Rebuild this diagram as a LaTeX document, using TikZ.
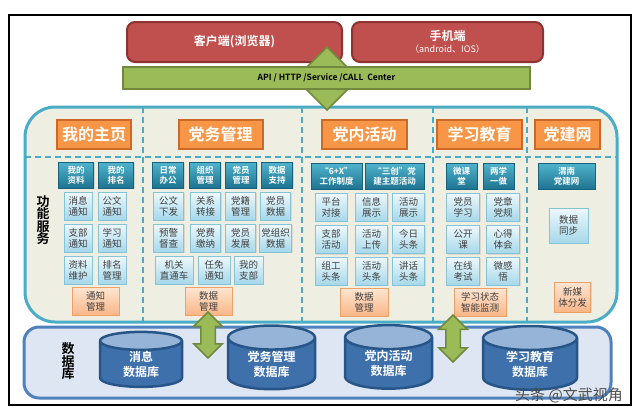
\documentclass[tikz,border=0pt]{standalone}
\usepackage{fontspec}
\setmainfont{Noto Sans CJK SC}[BoldFont={Noto Sans CJK SC Bold}]
\usetikzlibrary{shapes.geometric,shapes.arrows,shadows,positioning}
\definecolor{redfill}{RGB}{192,80,77}
\definecolor{redline}{RGB}{140,52,50}
\definecolor{greenfill}{RGB}{155,187,89}
\definecolor{greenline}{RGB}{113,137,63}
\definecolor{tealline}{RGB}{75,172,198}
\definecolor{panelfill}{RGB}{238,239,226}
\definecolor{orangefill}{RGB}{247,150,70}
\definecolor{orangeline}{RGB}{205,105,40}
\definecolor{subtop}{RGB}{80,180,205}
\definecolor{subbot}{RGB}{30,115,145}
\definecolor{celltop}{RGB}{238,248,252}
\definecolor{cellbot}{RGB}{165,216,234}
\definecolor{cellline}{RGB}{135,195,215}
\definecolor{peachtop}{RGB}{253,230,210}
\definecolor{peachbot}{RGB}{249,182,135}
\definecolor{peachline}{RGB}{238,160,105}
\definecolor{dbfill}{RGB}{221,230,242}
\definecolor{dbline}{RGB}{79,129,189}
\definecolor{cylbody}{RGB}{62,112,172}
\definecolor{cyltop}{RGB}{150,180,215}
\definecolor{cylline}{RGB}{40,85,135}

\begin{document}
\begin{tikzpicture}[x=1pt, y=-1pt, font=\fontsize{9}{10}\selectfont,
  redbox/.style={draw=redline, line width=2pt, fill=redfill, rounded corners=8pt, text=white, align=center, inner sep=0pt, font=\bfseries\fontsize{12}{14}\selectfont},
  greenbar/.style={draw=greenline, line width=2pt, fill=greenfill, inner sep=0pt, font=\bfseries\fontsize{8.5}{10}\selectfont},
  dblarrow/.style={double arrow, draw=greenline, line width=1.5pt, fill=greenfill, rotate=90, inner xsep=0pt},
  sep/.style={tealline, line width=1.2pt, dash pattern=on 6pt off 4pt},
  header/.style={draw=orangeline, line width=2pt, fill=orangefill, text=white, minimum height=29pt, inner sep=0pt, font=\bfseries\fontsize{16}{18}\selectfont},
  subhead/.style={draw=subbot!85!black, top color=subtop, bottom color=subbot, text=white, align=center, minimum height=26pt, inner sep=1pt, drop shadow={opacity=0.25, shadow xshift=1pt, shadow yshift=-1pt}, font=\bfseries\fontsize{8.5}{10}\selectfont},
  cell/.style={draw=cellline, top color=celltop, bottom color=cellbot, text=black!75, align=center, minimum width=30pt, minimum height=28pt, inner sep=1pt, drop shadow={opacity=0.2, shadow xshift=1pt, shadow yshift=-1pt}, font=\fontsize{9.5}{11}\selectfont},
  peach/.style={draw=peachline, top color=peachtop, bottom color=peachbot, text=black!75, align=center, minimum height=28pt, inner sep=1pt, drop shadow={opacity=0.2, shadow xshift=1pt, shadow yshift=-1pt}, font=\fontsize{9.5}{11}\selectfont},
  dbcyl/.style={cylinder, shape border rotate=90, aspect=0.5, draw=cylline, line width=2.5pt, cylinder uses custom fill, cylinder body fill=cylbody, cylinder end fill=cyltop, text=white, align=center, inner sep=0pt, font=\bfseries\fontsize{12}{15}\selectfont},
  vlabel/.style={align=center, inner sep=0pt, font=\bfseries\fontsize{13}{12.5}\selectfont}]

\fill[white] (0,0) rectangle (640,415);
\draw[line width=1.8pt] (9,15) rectangle (631,405);
\draw[tealline, line width=3pt, fill=panelfill, rounded corners=30pt] (25,107) rectangle (617,322);
\draw[dbline, line width=3pt, fill=dbfill, rounded corners=15pt] (24,327) rectangle (611,398);
\draw[sep] (25,157) -- (617,157);
\draw[sep] (143,107) -- (143,322);
\draw[sep] (302,107) -- (302,322);
\draw[sep] (433,107) -- (433,322);
\draw[sep] (527,107) -- (527,322);

% clients and access layer
\node[redbox, minimum width=215pt, minimum height=40pt] (client) at (234.5,42) {客户端(浏览器)};
\node[redbox, minimum width=191pt, minimum height=40pt] (mobile) at (447.5,42) {手机端\\[-2pt]{\mdseries\fontsize{9}{10}\selectfont （android、IOS）}};
\node[dblarrow, minimum height=63pt, inner ysep=9pt, double arrow head extend=11pt] (link) at (327,78.5) {};
\node[greenbar, minimum width=407pt, minimum height=22pt] (api) at (326.5,78) {API / HTTP /Service /CALL~~Center};

% function modules
\node[header, minimum width=74pt] (home) at (94,134.5) {我的主页};
\node[header, minimum width=84pt] (affairs) at (220.5,134.5) {党务管理};
\node[header, minimum width=85pt] (activity) at (364.5,134.5) {党内活动};
\node[header, minimum width=85pt] (study) at (479.5,134) {学习教育};
\node[header, minimum width=65pt] (portal) at (567.5,134) {党建网};

\node[subhead, minimum width=35pt] (myinfo) at (76,175) {我的\\资料};
\node[subhead, minimum width=35pt] (myrank) at (116,175) {我的\\排名};
\node[subhead, minimum width=31pt] (daily) at (168,175) {日常\\办公};
\node[subhead, minimum width=31pt] (org) at (205,175) {组织\\管理};
\node[subhead, minimum width=31pt] (member) at (241,175) {党员\\管理};
\node[subhead, minimum width=31pt] (datasup) at (277,175) {数据\\支持};
\node[subhead, minimum width=51pt] (sixx) at (336.5,176) {“6+X”\\工作制度};
\node[subhead, minimum width=59pt] (sanchuang) at (394.5,176) {“三创”党\\建主题活动};
\node[subhead, minimum width=31pt] (microclass) at (461.5,176) {微课\\堂};
\node[subhead, minimum width=31pt] (twostudy) at (498.5,176) {两学\\一做};
\node[subhead, minimum width=57pt] (weinan) at (566.5,176) {渭南\\党建网};

\node[cell, minimum width=28pt] (msgnote) at (78,206) {消息\\通知};
\node[cell, minimum width=28pt] (docnote) at (112,206) {公文\\通知};
\node[cell, minimum width=28pt] (branchnote) at (78,238) {支部\\通知};
\node[cell, minimum width=28pt] (studynote) at (112,238) {学习\\通知};
\node[cell, minimum width=28pt] (profile) at (78,270) {资料\\维护};
\node[cell, minimum width=28pt] (rankmgr) at (112,270) {排名\\管理};

\node[cell] (docsend) at (168.5,206) {公文\\下发};
\node[cell] (transfer) at (205.5,206) {关系\\转接};
\node[cell] (roster) at (240.5,206) {党籍\\管理};
\node[cell] (memberdata) at (275.5,206) {党员\\数据};
\node[cell] (warning) at (168.5,238) {预警\\督查};
\node[cell] (fees) at (205.5,238) {党费\\缴纳};
\node[cell] (develop) at (240.5,238) {党员\\发展};
\node[cell, minimum width=32pt] (orgdata) at (275.5,238) {党组织\\数据};
\node[cell, minimum width=38pt] (express) at (174,270) {机关\\直通车};
\node[cell, minimum width=32pt] (appoint) at (214,270) {任免\\通知};
\node[cell, minimum width=29pt] (mybranch) at (248.5,270) {我的\\支部};

\node[cell, minimum width=32pt] (dock) at (331,207) {平台\\对接};
\node[cell, minimum width=32pt] (infoshow) at (371.5,207) {信息\\展示};
\node[cell, minimum width=32pt] (actshow) at (408.5,207) {活动\\展示};
\node[cell, minimum width=32pt] (branchact) at (331,239.5) {支部\\活动};
\node[cell, minimum width=32pt] (upload) at (371.5,239.5) {活动\\上传};
\node[cell, minimum width=32pt] (today) at (408.5,239.5) {今日\\头条};
\node[cell, minimum width=32pt] (orgnews) at (331,271) {组工\\头条};
\node[cell, minimum width=32pt] (actnews) at (371.5,271) {活动\\头条};
\node[cell, minimum width=32pt] (speech) at (408.5,271) {讲话\\头条};

\node[cell, minimum width=33pt] (learn) at (463,207) {党员\\学习};
\node[cell, minimum width=33pt] (rules) at (503,207) {党章\\党规};
\node[cell, minimum width=33pt] (opencourse) at (463,239.5) {公开\\课};
\node[cell, minimum width=33pt] (insight) at (503,239.5) {心得\\体会};
\node[cell, minimum width=33pt] (exam) at (463,271) {在线\\考试};
\node[cell, minimum width=33pt] (thoughts) at (503,271) {微感\\悟};

\node[cell, minimum width=39pt, minimum height=35pt] (datasync) at (568.5,225.5) {数据\\同步};

\node[peach, minimum width=47pt] (noticemgr) at (95.5,301) {通知\\管理};
\node[peach, minimum width=47pt] (datamgr) at (208.5,301) {数据\\管理};
\node[peach, minimum width=48pt] (actdatamgr) at (364,302) {数据\\管理};
\node[peach, minimum width=52pt] (monitor) at (480,302) {学习状态\\智能监测};
\node[peach, minimum width=36pt, minimum height=30pt] (newmedia) at (572.5,297) {新媒\\体分发};

% databases
\node[dbcyl, minimum width=82pt, minimum height=55pt] (msgdb) at (141,364.5) {消息\\数据库};
\node[dbcyl, minimum width=87pt, minimum height=58pt] (affairsdb) at (271.5,364) {党务管理\\数据库};
\node[dbcyl, minimum width=87pt, minimum height=57pt] (activitydb) at (388.5,363.5) {党内活动\\数据库};
\node[dbcyl, minimum width=94pt, minimum height=55pt] (studydb) at (530,364.5) {学习教育\\数据库};

\node[dblarrow, minimum height=46pt, inner ysep=6.5pt, double arrow head extend=7pt] (sync1) at (208,335) {};
\node[dblarrow, minimum height=47pt, inner ysep=6.5pt, double arrow head extend=7pt] (sync2) at (453,338.5) {};

\node[vlabel] (funclabel) at (43,220) {功\\能\\服\\务};
\node[vlabel] (dblabel) at (68,361.5) {数\\据\\库};
\node[text=black!70, inner sep=0pt, font=\fontsize{15}{15}\selectfont] (mark) at (569,395) {头条 @文武视角};
\end{tikzpicture}
\end{document}
